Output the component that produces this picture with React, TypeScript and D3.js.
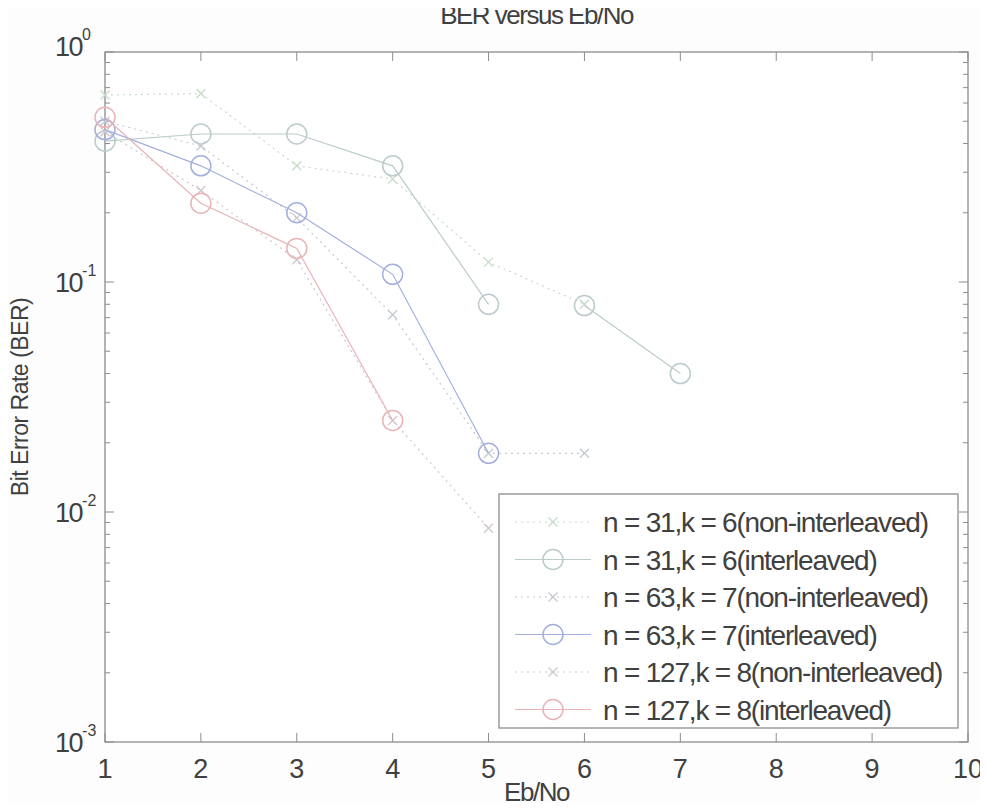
import React, { useEffect, useRef } from 'react'
import * as d3 from 'd3'

// Eb/No values (x axis)
const ebNo = [1, 2, 3, 4, 5, 6, 7]
const xTicks = [1, 2, 3, 4, 5, 6, 7, 8, 9, 10]
const yMajor = [1, 0.1, 0.01, 0.001]
const yExp = ['0', '-1', '-2', '-3']

// BER (null = not plotted)
const ber31Non = [0.65, 0.66, 0.32, 0.28, 0.122, 0.08, null]
const ber31Int = [0.41, 0.44, 0.44, 0.32, 0.08, null, null]
const ber31IntTail = [null, null, null, null, null, 0.079, 0.04]
const ber63Non = [0.5, 0.39, 0.19, 0.072, 0.018, 0.018, null]
const ber63Int = [0.46, 0.32, 0.2, 0.108, 0.018, null, null]
const ber127Non = [0.45, 0.25, 0.125, 0.025, 0.0085, null, null]
const ber127Int = [0.52, 0.22, 0.14, 0.025, null, null, null]

const legendLabels = [
  'n = 31,k = 6(non-interleaved)',
  'n = 31,k = 6(interleaved)',
  'n = 63,k = 7(non-interleaved)',
  'n = 63,k = 7(interleaved)',
  'n = 127,k = 8(non-interleaved)',
  'n = 127,k = 8(interleaved)',
]

function App() {
  const ref = useRef<SVGSVGElement | null>(null)

  useEffect(() => {
    const width = 988
    const height = 811
    const margin = { top: 52, right: 20, bottom: 69, left: 105 }

    const svg = d3.select(ref.current)
    svg.selectAll('*').remove()
    svg.attr('width', width).attr('height', height)
      .style('font-family', '"Liberation Sans", Arial, sans-serif')

    svg.append('rect').attr('width', width).attr('height', height).attr('fill', '#fdfdfd')

    const x = d3.scaleLinear().domain([1, 10]).range([margin.left, width - margin.right])
    const y = d3.scaleLog().domain([0.001, 1]).range([height - margin.bottom, margin.top])

    const axisColor = '#8c8c8c'
    const textColor = '#404040'

    // box
    svg.append('rect')
      .attr('x', x(1)).attr('y', y(1))
      .attr('width', x(10) - x(1)).attr('height', y(0.001) - y(1))
      .attr('fill', '#ffffff').attr('stroke', axisColor).attr('stroke-width', 1.3)

    // x ticks top & bottom
    const xt = svg.append('g')
    xTicks.forEach(t => {
      xt.append('line').attr('x1', x(t)).attr('x2', x(t)).attr('y1', y(0.001)).attr('y2', y(0.001) - 9)
        .attr('stroke', axisColor)
      xt.append('line').attr('x1', x(t)).attr('x2', x(t)).attr('y1', y(1)).attr('y2', y(1) + 9)
        .attr('stroke', axisColor)
      xt.append('text').attr('x', x(t)).attr('y', y(0.001) + 36)
        .attr('text-anchor', 'middle').attr('font-size', 27).attr('fill', textColor)
        .text(t)
    })

    // y ticks, major and minor, left and right
    const yt = svg.append('g')
    yMajor.forEach((v, i) => {
      ;[x(1), x(10)].forEach((px, side) => {
        const dir = side === 0 ? 1 : -1
        yt.append('line').attr('x1', px).attr('x2', px + dir * 9).attr('y1', y(v)).attr('y2', y(v))
          .attr('stroke', axisColor)
        if (v > 0.001) {
          for (let m = 2; m <= 9; m++) {
            const mv = (v / 10) * m
            yt.append('line').attr('x1', px).attr('x2', px + dir * 5).attr('y1', y(mv)).attr('y2', y(mv))
              .attr('stroke', axisColor)
          }
        }
      })
      const lab = yt.append('text').attr('x', 55).attr('y', y(v) + (i === 0 ? 4 : 10))
        .attr('font-size', 27).attr('letter-spacing', -1.5).attr('fill', textColor)
      lab.append('tspan').text('10')
      lab.append('tspan').attr('dy', -16).attr('font-size', 16).attr('letter-spacing', 0).text(yExp[i])
    })

    // titles
    svg.append('text').attr('x', (x(1) + x(10)) / 2).attr('y', 24)
      .attr('text-anchor', 'middle').attr('font-size', 26).attr('letter-spacing', -1.5).attr('fill', textColor)
      .text('BER versus Eb/No')
    svg.append('text').attr('x', (x(1) + x(10)) / 2).attr('y', 801)
      .attr('text-anchor', 'middle').attr('font-size', 26).attr('letter-spacing', -1.5).attr('fill', textColor)
      .text('Eb/No')
    svg.append('text')
      .attr('transform', `translate(28,${(y(1) + y(0.001)) / 2}) rotate(-90)`)
      .attr('text-anchor', 'middle').attr('font-size', 23).attr('letter-spacing', -0.5).attr('fill', textColor)
      .text('Bit Error Rate (BER)')

    const series = [
      { values: ber31Non, color: '#c6dcc8', dash: '2,4', marker: 'x', label: legendLabels[0] },
      { values: ber31Int, color: '#bccbcc', dash: null, marker: 'o', label: legendLabels[1] },
      { values: ber63Non, color: '#c4c8d0', dash: '2,4', marker: 'x', label: legendLabels[2] },
      { values: ber63Int, color: '#a3b0de', dash: null, marker: 'o', label: legendLabels[3] },
      { values: ber127Non, color: '#cfc6cf', dash: '2,4', marker: 'x', label: legendLabels[4] },
      { values: ber127Int, color: '#e8b4b6', dash: null, marker: 'o', label: legendLabels[5] },
      { values: ber31IntTail, color: '#bccbcc', dash: null, marker: 'o', label: null },
    ]

    const line = d3.line<[number, number | null]>()
      .defined(d => d[1] !== null)
      .x(d => x(d[0]))
      .y(d => y(d[1] as number))

    const drawMarker = (g: any, cx: number, cy: number, s: any) => {
      if (s.marker === 'o') {
        g.append('circle').attr('cx', cx).attr('cy', cy).attr('r', 10)
          .attr('fill', 'none').attr('stroke', s.color).attr('stroke-width', 1.5)
      } else {
        const r = 4.5
        g.append('path').attr('d', `M${cx - r},${cy - r}L${cx + r},${cy + r}M${cx - r},${cy + r}L${cx + r},${cy - r}`)
          .attr('stroke', s.color).attr('stroke-width', 1.3)
      }
    }

    const plot = svg.append('g')
    series.forEach(s => {
      const pts = ebNo.map((e, i) => [e, s.values[i]] as [number, number | null])
      plot.append('path').attr('d', line(pts))
        .attr('fill', 'none').attr('stroke', s.color).attr('stroke-width', 1.2)
        .attr('stroke-dasharray', s.dash)
      pts.filter(p => p[1] !== null).forEach(p => drawMarker(plot, x(p[0]), y(p[1] as number), s))
    })

    // legend
    const lg = svg.append('g')
    const lx = 499, ly = 494, lw = 459, lh = 234
    lg.append('rect').attr('x', lx).attr('y', ly).attr('width', lw).attr('height', lh)
      .attr('fill', '#ffffff').attr('stroke', axisColor).attr('stroke-width', 1.3)
    series.filter(s => s.label).forEach((s, i) => {
      const ry = ly + 28 + i * 37.5
      lg.append('line').attr('x1', lx + 16).attr('x2', lx + 92).attr('y1', ry).attr('y2', ry)
        .attr('stroke', s.color).attr('stroke-width', 1.2).attr('stroke-dasharray', s.dash)
      drawMarker(lg, lx + 54, ry, s)
      lg.append('text').attr('x', lx + 104).attr('y', ry + 10)
        .attr('font-size', 28).attr('letter-spacing', -1.2).attr('fill', textColor)
        .text(s.label)
    })
  }, [])

  return <svg ref={ref} style={{ display: 'block', margin: '-8px' }}></svg>
}

export default App
